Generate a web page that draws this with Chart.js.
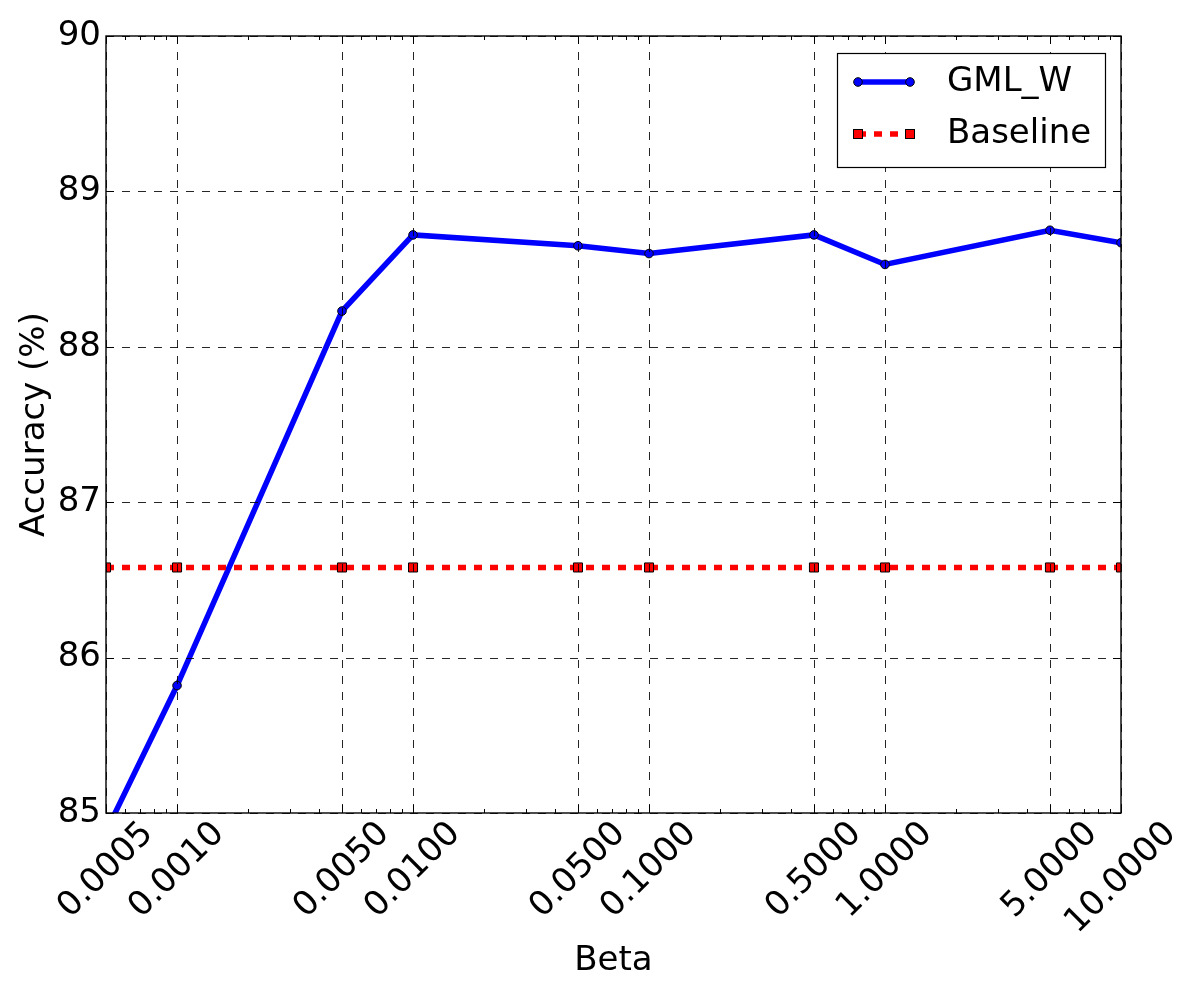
<!DOCTYPE html>
<html>
<head>
<meta charset="utf-8">
<script src="https://cdn.jsdelivr.net/npm/chart.js@4/dist/chart.umd.min.js"></script>
<style>
  body { margin: 0; background: #fff; }
</style>
</head>
<body>
<canvas id="accChart" width="1200" height="1000"></canvas>
<script>
// valores
const betaValues = [0.0005, 0.001, 0.005, 0.01, 0.05, 0.1, 0.5, 1, 5, 10];
const gmlAccuracy = [84.88, 85.82, 88.23, 88.72, 88.65, 88.60, 88.72, 88.53, 88.75, 88.67];
const baselineAccuracy = [86.58, 86.58, 86.58, 86.58, 86.58, 86.58, 86.58, 86.58, 86.58, 86.58];
const xTickValues = [0.0005, 0.001, 0.005, 0.01, 0.05, 0.1, 0.5, 1, 5, 10];
const yTickValues = [85, 86, 87, 88, 89, 90];
const seriesNames = ['GML_W', 'Baseline'];

const FONT = '"DejaVu Sans", sans-serif';
const FSIZE = 34;

// ticks menores del eje log (2..9 por década)
const minorTicks = [];
for (let e = -4; e <= 1; e++) {
  for (let m = 2; m <= 9; m++) {
    const v = m * Math.pow(10, e);
    if (v > 0.0005 && v < 10 && !xTickValues.some(t => Math.abs(t - v) / v < 1e-6)) {
      minorTicks.push(v);
    }
  }
}

const toPoints = ys => betaValues.map((x, i) => ({ x: x, y: ys[i] }));

// plugin para rejilla, marco, etiquetas del eje x y leyenda
const decorPlugin = {
  id: 'decor',
  afterDatasetsDraw(chart) {
    const { ctx, chartArea: a, scales: { x, y } } = chart;
    ctx.save();
    ctx.strokeStyle = 'rgba(0,0,0,0.85)';
    ctx.lineWidth = 1;
    ctx.setLineDash([8, 8]);
    xTickValues.forEach(v => {
      const px = Math.round(x.getPixelForValue(v)) + 0.5;
      ctx.beginPath();
      ctx.moveTo(px, a.top);
      ctx.lineTo(px, a.bottom);
      ctx.stroke();
    });
    yTickValues.forEach(v => {
      const py = Math.round(y.getPixelForValue(v)) + 0.5;
      ctx.beginPath();
      ctx.moveTo(a.left, py);
      ctx.lineTo(a.right, py);
      ctx.stroke();
    });
    ctx.restore();
  },
  afterDraw(chart) {
    const { ctx, chartArea: a, scales: { x, y } } = chart;
    ctx.save();
    // ticks
    ctx.strokeStyle = '#000';
    ctx.lineWidth = 1;
    ctx.beginPath();
    xTickValues.forEach(v => {
      const px = Math.round(x.getPixelForValue(v)) + 0.5;
      ctx.moveTo(px, a.bottom); ctx.lineTo(px, a.bottom - 8);
      ctx.moveTo(px, a.top); ctx.lineTo(px, a.top + 8);
    });
    minorTicks.forEach(v => {
      const px = Math.round(x.getPixelForValue(v)) + 0.5;
      ctx.moveTo(px, a.bottom); ctx.lineTo(px, a.bottom - 4);
      ctx.moveTo(px, a.top); ctx.lineTo(px, a.top + 4);
    });
    yTickValues.forEach(v => {
      const py = Math.round(y.getPixelForValue(v)) + 0.5;
      ctx.moveTo(a.left, py); ctx.lineTo(a.left + 8, py);
      ctx.moveTo(a.right, py); ctx.lineTo(a.right - 8, py);
    });
    ctx.stroke();

    // marco
    ctx.lineWidth = 1.4;
    ctx.strokeRect(a.left, a.top, a.right - a.left, a.bottom - a.top);

    // etiquetas del eje x, rotadas 45 grados y centradas
    ctx.fillStyle = '#000';
    ctx.font = FSIZE + 'px ' + FONT;
    ctx.textAlign = 'center';
    ctx.textBaseline = 'middle';
    xTickValues.forEach(v => {
      const txt = v.toFixed(4);
      const w = ctx.measureText(txt).width;
      const px = x.getPixelForValue(v);
      const cy = a.bottom + 7 + (w + 24) * Math.SQRT1_2 / 2;
      ctx.save();
      ctx.translate(px, cy);
      ctx.rotate(-Math.PI / 4);
      ctx.fillText(txt, 0, 0);
      ctx.restore();
    });

    // leyenda
    const lx = 837, ly = 53, lw = 268, lh = 114;
    ctx.fillStyle = '#fff';
    ctx.fillRect(lx, ly, lw, lh);
    ctx.strokeStyle = '#000';
    ctx.lineWidth = 1.2;
    ctx.strokeRect(lx + 0.5, ly + 0.5, lw, lh);

    const rows = [82, 134];
    const x1 = 858, x2 = 910;
    // GML_W
    ctx.strokeStyle = '#0000ff';
    ctx.lineWidth = 5.5;
    ctx.beginPath(); ctx.moveTo(x1, rows[0]); ctx.lineTo(x2, rows[0]); ctx.stroke();
    ctx.fillStyle = '#0000ff';
    ctx.lineWidth = 1;
    ctx.strokeStyle = '#000';
    [x1, x2].forEach(px => {
      ctx.beginPath(); ctx.arc(px, rows[0], 4.3, 0, Math.PI * 2); ctx.fill(); ctx.stroke();
    });
    // Baseline
    ctx.strokeStyle = '#ff0000';
    ctx.lineWidth = 5.5;
    ctx.setLineDash([8, 8]);
    ctx.beginPath(); ctx.moveTo(x1, rows[1]); ctx.lineTo(x2, rows[1]); ctx.stroke();
    ctx.setLineDash([]);
    ctx.fillStyle = '#ff0000';
    ctx.strokeStyle = '#000';
    ctx.lineWidth = 1;
    [x1, x2].forEach(px => {
      ctx.fillRect(px - 4.5, rows[1] - 4.5, 9, 9);
      ctx.strokeRect(px - 4.5, rows[1] - 4.5, 9, 9);
    });

    ctx.fillStyle = '#000';
    ctx.font = FSIZE + 'px ' + FONT;
    ctx.textAlign = 'left';
    ctx.textBaseline = 'middle';
    ctx.fillText(seriesNames[0], 947, rows[0]);
    ctx.fillText(seriesNames[1], 947, rows[1]);
    ctx.restore();
  }
};

const ctx = document.getElementById('accChart').getContext('2d');
new Chart(ctx, {
  type: 'line',
  data: {
    datasets: [{
      label: seriesNames[0],
      data: toPoints(gmlAccuracy),
      borderColor: '#0000ff',
      backgroundColor: '#0000ff',
      borderWidth: 5.5,
      pointRadius: 4.3,
      pointBackgroundColor: '#0000ff',
      pointBorderColor: '#000',
      pointBorderWidth: 1,
      tension: 0,
      clip: 0,
      order: 1
    }, {
      label: seriesNames[1],
      data: toPoints(baselineAccuracy),
      borderColor: '#ff0000',
      backgroundColor: '#ff0000',
      borderWidth: 5.5,
      borderDash: [8, 8],
      pointStyle: 'rect',
      pointRadius: 6.4,
      pointBackgroundColor: '#ff0000',
      pointBorderColor: '#000',
      pointBorderWidth: 1,
      tension: 0,
      clip: 0,
      order: 0
    }]
  },
  options: {
    responsive: false,
    animation: false,
    layout: { padding: { top: 36, right: 79, left: 0, bottom: 0 } },
    plugins: {
      legend: { display: false },
      tooltip: { enabled: false }
    },
    scales: {
      x: {
        type: 'logarithmic',
        min: 0.0005,
        max: 10,
        grid: { display: false },
        border: { display: false },
        ticks: { display: false },
        afterBuildTicks: scale => {
          scale.ticks = xTickValues.map(v => ({ value: v }));
        },
        afterFit: scale => { scale.height = 187; },
        title: {
          display: true,
          text: 'Beta',
          color: '#000',
          font: { family: FONT, size: FSIZE },
          padding: { top: 0, bottom: 18 }
        }
      },
      y: {
        min: 85,
        max: 90,
        grid: { display: false, drawTicks: false },
        border: { display: false },
        afterBuildTicks: scale => {
          scale.ticks = yTickValues.map(v => ({ value: v }));
        },
        afterFit: scale => { scale.width = 106; },
        ticks: {
          color: '#000',
          padding: 5,
          font: { family: FONT, size: FSIZE },
          callback: v => v
        },
        title: {
          display: true,
          text: 'Accuracy (%)',
          color: '#000',
          font: { family: FONT, size: FSIZE },
          padding: { top: 15, bottom: 0 }
        }
      }
    }
  },
  plugins: [decorPlugin]
});
</script>
</body>
</html>
